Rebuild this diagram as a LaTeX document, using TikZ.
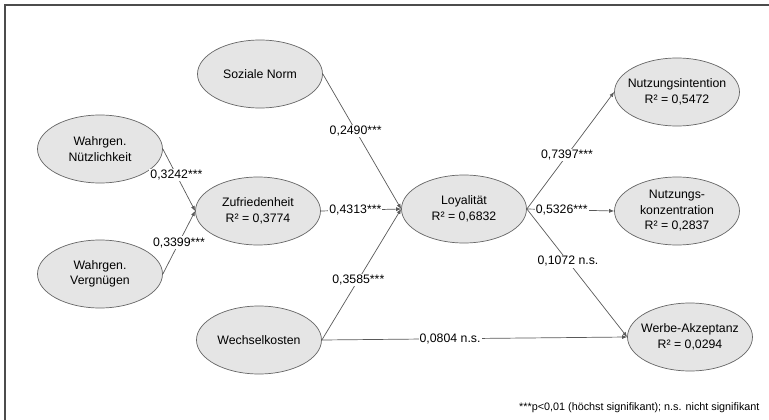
\documentclass[tikz,border=0pt]{standalone}
\usepackage{fontspec}
\setmainfont{Liberation Sans}
\usetikzlibrary{arrows.meta, shapes.geometric}

\begin{document}
\begin{tikzpicture}[
      x=1pt, y=-1pt,
      >={Latex[length=5pt, width=4pt]},
      construct/.style={ellipse, draw=black!60, fill=black!10, line width=0.7pt, align=center, font=\fontsize{12.3}{15.5}\selectfont, minimum width=125pt, minimum height=68pt, inner xsep=-12pt, inner ysep=0pt},
      link/.style={->, draw=black!65, line width=0.7pt},
      coef/.style={fill=white, inner sep=1pt, font=\fontsize{12.3}{14}\selectfont},
      frame/.style={draw=black!70, line width=1.2pt}
  ]
      \useasboundingbox (0,0) rectangle (769,420);
      \draw[frame] (5,420) -- (5,5) -- (769,5);

      % Exogenous constructs
      \node[construct] (sn) at (260,74)  {Soziale Norm};
      \node[construct] (wn) at (100,149) {Wahrgen.\\ Nützlichkeit};
      \node[construct] (wv) at (100,274) {Wahrgen.\\ Vergnügen};
      \node[construct] (wk) at (259,340) {Wechselkosten};

      % Mediators
      \node[construct] (zu) at (258,211) {Zufriedenheit\\ R² = 0,3774};
      \node[construct] (lo) at (464,209) {Loyalität\\ R² = 0,6832};

      % Outcomes
      \node[construct] (ni) at (677,92)  {Nutzungsintention\\ R² = 0,5472};
      \node[construct] (nk) at (677,211) {Nutzungs-\\ konzentration\\ R² = 0,2837};
      \node[construct] (wa) at (690,337) {Werbe-Akzeptanz\\ R² = 0,0294};

      \draw[link] (wn.east) -- node[coef, pos=0.42] {0,3242***} (zu.west);
      \draw[link] (wv.east) -- node[coef, pos=0.5]  {0,3399***} (zu.west);
      \draw[link] (sn.east) -- node[coef, pos=0.42] {0,2490***} (lo.west);
      \draw[link] (zu.east) -- node[coef, pos=0.43] {0,4313***} (lo.west);
      \draw[link] (wk.east) -- node[coef, pos=0.46] {0,3585***} (lo.west);
      \draw[link] (wk.east) -- node[coef, pos=0.42] {0,0804 n.s.} (wa.west);

      \draw[link] (lo.east) -- node[coef, pos=0.46] {0,7397***} (ni.west);
      \draw[link] (lo.east) -- node[coef, pos=0.4]  {0,5326***} (nk.west);
      \draw[link] (lo.east) -- node[coef, pos=0.41] {0,1072 n.s.} (wa.west);

      % Footnote
      \node[anchor=east, font=\fontsize{10.8}{12}\selectfont] (note) at (763,408) {***p<0,01 (höchst signifikant); n.s. nicht signifikant};

  \end{tikzpicture}
\end{document}
